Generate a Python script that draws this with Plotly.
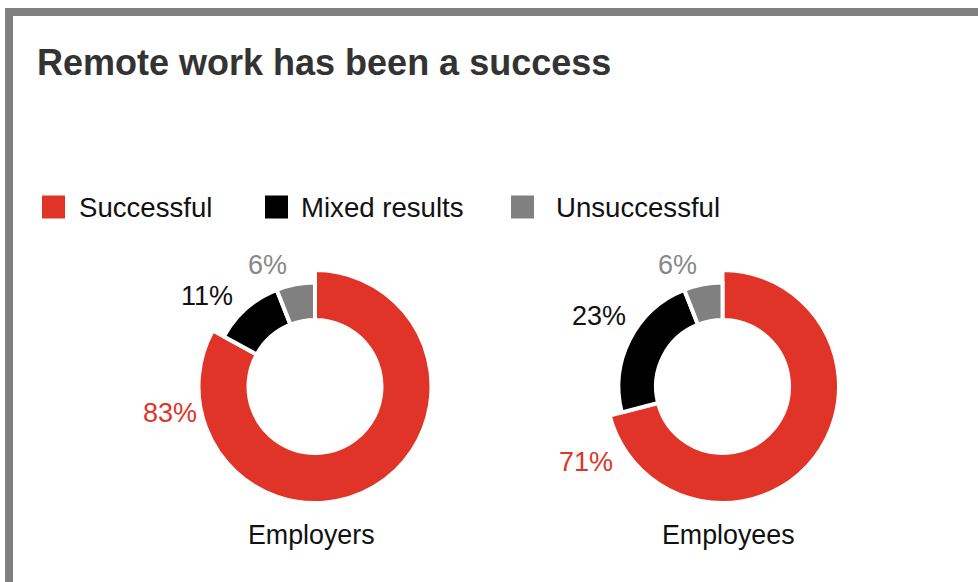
import plotly.graph_objects as go

# Survey results: share of respondents rating remote work
categories = ["Successful", "Mixed results", "Unsuccessful"]
employers = [83, 11, 6]
employees = [71, 23, 6]
groups = ["Employers", "Employees"]
title_text = "Remote work has been a success"

colors = ["#DF3427", "#000000", "#808080"]
label_colors = ["#DF3427", "#111111", "#888888"]

W, H = 978, 582
FONT = "Liberation Sans, Arial, Helvetica, sans-serif"


def px(x, y):
    """Convert pixel position (from top-left) to paper coordinates."""
    return x / W, 1 - y / H


def domain(cx, cy, r):
    return dict(x=[(cx - r) / W, (cx + r) / W],
                y=[1 - (cy + r) / H, 1 - (cy - r) / H])


fig = go.Figure()

LW = 4            # white separator width
R_BIG = 116.5     # outer radius of the highlighted (Successful) segment
R_SMALL = 104     # outer radius of the other segments
R_HOLE = 66.5     # hole radius shared by both rings

centers = [(315, 386.5), (722.5, 386.5)]
for vals, (cx, cy) in zip([employers, employees], centers):
    # highlighted segment on the larger ring
    fig.add_trace(go.Pie(
        values=vals, labels=categories, sort=False, direction="clockwise",
        rotation=0, hole=R_HOLE / R_BIG, domain=domain(cx, cy, R_BIG),
        marker=dict(colors=[colors[0], "rgba(0,0,0,0)", "rgba(0,0,0,0)"],
                    line=dict(color="white", width=[LW, 0, 0])),
        textinfo="none", hoverinfo="label+percent", showlegend=False,
    ))
    # remaining segments on the smaller ring
    fig.add_trace(go.Pie(
        values=vals, labels=categories, sort=False, direction="clockwise",
        rotation=0, hole=R_HOLE / R_SMALL, domain=domain(cx, cy, R_SMALL),
        marker=dict(colors=["rgba(0,0,0,0)", colors[1], colors[2]],
                    line=dict(color="white", width=[0, LW, LW])),
        textinfo="none", hoverinfo="label+percent", showlegend=False,
    ))

annotations = []
shapes = []

# frame on the top and left edges
shapes.append(dict(type="rect", xref="paper", yref="paper",
                   x0=9 / W, y0=-0.2, x1=1.2, y1=1 - 12 / H,
                   line=dict(color="#808080", width=8),
                   fillcolor="rgba(0,0,0,0)", layer="below"))

# title
tx, ty = px(35, 62.5)
annotations.append(dict(text=f"<b>{title_text}</b>", x=tx, y=ty,
                        xref="paper", yref="paper", xanchor="left",
                        yanchor="middle", showarrow=False,
                        font=dict(family=FONT, size=36, color="#333333")))

# legend: colour squares plus labels
legend_sq = [42, 265, 511]
legend_tx = [80, 302, 557]
for cat, col, sx, lx in zip(categories, colors, legend_sq, legend_tx):
    x0, y0 = px(sx, 218.5)
    x1, y1 = px(sx + 23, 195.5)
    shapes.append(dict(type="rect", xref="paper", yref="paper",
                       x0=x0, y0=y0, x1=x1, y1=y1,
                       fillcolor=col, line=dict(width=0)))
    ax, ay = px(lx - 3, 207.5)
    annotations.append(dict(text=cat, x=ax, y=ay, xref="paper", yref="paper",
                            xanchor="left", yanchor="middle", showarrow=False,
                            font=dict(family=FONT, size=27.6, color="#111111")))

# value labels around each donut
value_pos = [
    [(170, 413), (206.5, 296), (267, 265)],
    [(586, 462), (598.5, 316), (677, 265)],
]
for vals, positions in zip([employers, employees], value_pos):
    for v, col, (lx, ly) in zip(vals, label_colors, positions):
        ax, ay = px(lx, ly)
        annotations.append(dict(text=f"{v}%", x=ax, y=ay, xref="paper",
                                yref="paper", xanchor="center",
                                yanchor="middle", showarrow=False,
                                font=dict(family=FONT, size=27, color=col)))

# group names under the donuts
for g, gx in zip(groups, [311, 728]):
    ax, ay = px(gx, 535)
    annotations.append(dict(text=g, x=ax, y=ay, xref="paper", yref="paper",
                            xanchor="center", yanchor="middle",
                            showarrow=False,
                            font=dict(family=FONT, size=26.8, color="#111111")))

fig.update_layout(
    width=W, height=H,
    margin=dict(l=0, r=0, t=0, b=0),
    paper_bgcolor="white", plot_bgcolor="white",
    annotations=annotations, shapes=shapes,
    font=dict(family=FONT),
)

fig.write_html("out.html", config={"displayModeBar": False})
